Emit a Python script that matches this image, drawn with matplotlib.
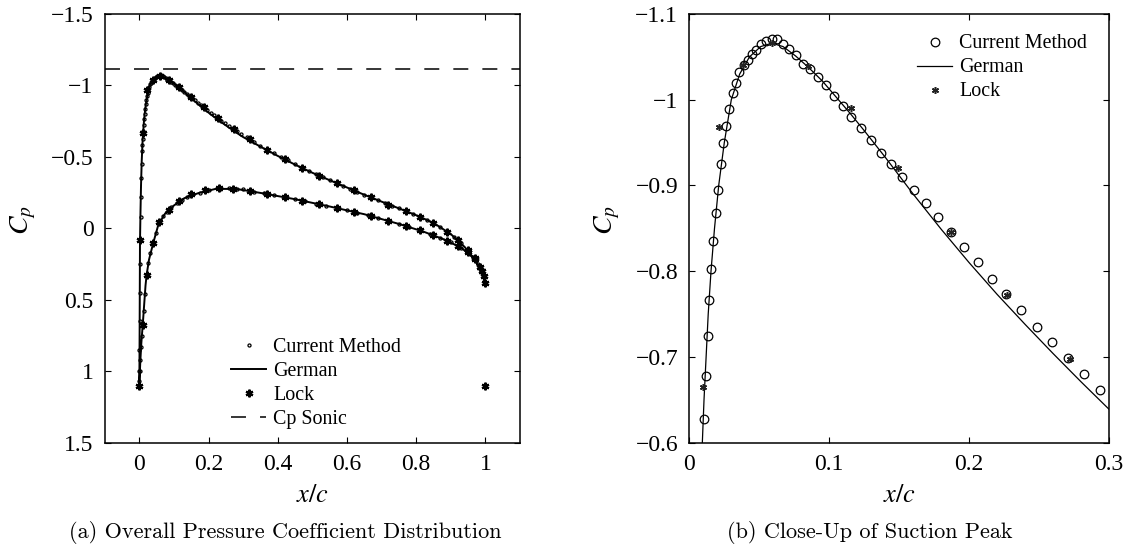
import matplotlib
matplotlib.use("Agg")
import matplotlib.pyplot as plt

# ---------------- data ----------------
cp_sonic = -1.115

# German (line): lower surface TE -> LE
german_lo_x = [1.0, 0.97, 0.93, 0.88, 0.82, 0.75, 0.65, 0.55, 0.45, 0.35, 0.28, 0.22,
               0.17, 0.13, 0.10, 0.075, 0.055, 0.04, 0.028, 0.021, 0.018, 0.011, 0.006,
               0.003, 0.001, 0.0]
german_lo_cp = [0.38, 0.217, 0.135, 0.077, 0.022, -0.031, -0.099, -0.153, -0.204, -0.248,
                -0.276, -0.276, -0.246, -0.211, -0.16, -0.105, -0.025, 0.105, 0.22, 0.329,
                0.40, 0.64, 0.80, 0.93, 1.04, 1.10]
# German (line): upper surface LE -> TE
german_up_x = [0.0, 0.0005, 0.001, 0.0015, 0.002, 0.0035, 0.005, 0.007, 0.0093, 0.0105,
               0.012, 0.0135, 0.0155, 0.018, 0.021, 0.025, 0.030, 0.036, 0.043, 0.051,
               0.059, 0.067, 0.076, 0.085, 0.095, 0.105, 0.115, 0.125, 0.14, 0.16, 0.18,
               0.2, 0.22, 0.24, 0.26, 0.28, 0.3, 0.35, 0.4, 0.45, 0.5, 0.55, 0.6, 0.65,
               0.7, 0.75, 0.8, 0.85, 0.9, 0.94, 0.97, 0.99, 1.0]
german_up_cp = [1.10, 0.95, 0.7, 0.4, 0.1, -0.12, -0.3, -0.47, -0.60, -0.65,
                -0.70, -0.75, -0.80, -0.85, -0.90, -0.95, -1.00, -1.03, -1.05, -1.062,
                -1.066, -1.062, -1.051, -1.038, -1.022, -1.003, -0.984, -0.964, -0.933,
                -0.890, -0.849, -0.810, -0.773, -0.738, -0.704, -0.671, -0.639, -0.572,
                -0.507, -0.446, -0.389, -0.337, -0.286, -0.235, -0.187, -0.140, -0.092,
                -0.038, 0.040, 0.13, 0.22, 0.30, 0.38]

# Current Method: upper surface
cur_up_x = [0.0, 0.0002, 0.0005, 0.0009, 0.0014, 0.002, 0.0027, 0.0035, 0.0044, 0.0054,
            0.0065, 0.0078, 0.0088,
            0.0104, 0.0117, 0.013, 0.0143, 0.0156, 0.0171, 0.0189, 0.0205, 0.0223, 0.0241,
            0.0264, 0.0285, 0.0309, 0.0332, 0.0358, 0.0389, 0.0417, 0.0449, 0.048, 0.0514,
            0.055, 0.0589, 0.0628, 0.0672, 0.0716, 0.0762, 0.0809, 0.0861, 0.0918, 0.0978,
            0.1037, 0.1097, 0.1159, 0.1227, 0.1297, 0.1369, 0.1444, 0.1522, 0.1607, 0.1691,
            0.1779, 0.187, 0.1963, 0.2061, 0.216, 0.2266, 0.2372, 0.2482, 0.259, 0.2707,
            0.2821, 0.2938,
            0.31, 0.33, 0.35, 0.37, 0.39, 0.41, 0.43, 0.45, 0.47, 0.49, 0.51, 0.53, 0.55,
            0.57, 0.59, 0.61, 0.63, 0.65, 0.67, 0.69, 0.71, 0.73, 0.75, 0.77, 0.79, 0.81,
            0.83, 0.85, 0.87, 0.89, 0.91, 0.93, 0.95, 0.965, 0.98, 0.99, 1.0]
cur_up_cp = [1.10, 1.0, 0.85, 0.65, 0.45, 0.25, 0.08, -0.08, -0.22, -0.35,
             -0.45, -0.54, -0.58,
             -0.628, -0.678, -0.725, -0.767, -0.803, -0.835, -0.868, -0.895, -0.925, -0.949,
             -0.969, -0.989, -1.008, -1.020, -1.032, -1.040, -1.046, -1.053, -1.058, -1.0645,
             -1.069, -1.0714, -1.0714, -1.0645, -1.0588, -1.0518, -1.0416, -1.0355, -1.0265,
             -1.0171, -1.0049, -0.993, -0.9796, -0.9665, -0.953, -0.938, -0.9245, -0.9098,
             -0.895, -0.8796, -0.8633, -0.8461, -0.8282, -0.8102, -0.791, -0.7735, -0.7543,
             -0.7355, -0.7171, -0.6988, -0.680, -0.6612,
             -0.636, -0.604, -0.578, -0.552, -0.527, -0.501, -0.476, -0.450, -0.425, -0.401,
             -0.378, -0.356, -0.337, -0.317, -0.296, -0.275, -0.254, -0.235, -0.216, -0.196,
             -0.177, -0.158, -0.140, -0.122, -0.101, -0.079, -0.059, -0.038, -0.010, 0.022,
             0.060, 0.105, 0.153, 0.198, 0.250, 0.300, 0.38]
# Current Method: lower surface
cur_lo_x = [0.0005, 0.0015, 0.003, 0.005, 0.0075, 0.0102, 0.013, 0.0165, 0.021, 0.026,
            0.032, 0.04, 0.048, 0.058, 0.069, 0.08, 0.093, 0.108, 0.122, 0.137, 0.155,
            0.175, 0.2, 0.233, 0.26, 0.281, 0.30, 0.33, 0.36, 0.39, 0.42, 0.45, 0.48,
            0.51, 0.54, 0.57, 0.60, 0.63, 0.66, 0.69, 0.72, 0.75, 0.78, 0.81, 0.84, 0.87,
            0.90, 0.93, 0.95, 0.97, 0.985, 1.0]
cur_lo_cp = [1.07, 1.0, 0.92, 0.83, 0.75, 0.673, 0.58, 0.46, 0.33, 0.24,
             0.17, 0.105, 0.03, -0.046, -0.085, -0.116, -0.148, -0.175, -0.2, -0.221,
             -0.237, -0.249, -0.265, -0.278, -0.28, -0.278, -0.272, -0.256, -0.244, -0.232,
             -0.218, -0.204, -0.189, -0.173, -0.158, -0.143, -0.127, -0.110, -0.091, -0.071,
             -0.051, -0.031, -0.011, 0.012, 0.038, 0.066, 0.098, 0.135, 0.167, 0.217,
             0.275, 0.38]

# Lock (asterisks)
lock_x = [0.002, 0.0096, 0.0213, 0.0384, 0.0589, 0.0848, 0.1154, 0.1491, 0.187, 0.2269,
          0.2723, 0.32, 0.37, 0.42, 0.47, 0.52, 0.57, 0.62, 0.67, 0.72, 0.77, 0.81, 0.85,
          0.89, 0.92, 0.95, 0.97, 0.985, 0.995,
          0.0, 0.0102, 0.021, 0.04, 0.058, 0.085, 0.115, 0.15, 0.19, 0.23, 0.27, 0.32,
          0.37, 0.42, 0.47, 0.52, 0.57, 0.62, 0.67, 0.72, 0.77, 0.81, 0.85, 0.89, 0.92,
          0.95, 0.97, 0.99, 1.0, 1.0]
lock_cp = [0.083, -0.6645, -0.9686, -1.0408, -1.0665, -1.0388, -0.9898, -0.9204, -0.8461,
           -0.7722, -0.6971, -0.622, -0.551, -0.486, -0.425, -0.366, -0.317, -0.266, -0.216,
           -0.162, -0.12, -0.079, -0.038, 0.022, 0.083, 0.153, 0.21, 0.27, 0.33,
           1.10, 0.673, 0.329, 0.105, -0.046, -0.125, -0.19, -0.238, -0.268, -0.279, -0.275,
           -0.258, -0.241, -0.218, -0.194, -0.167, -0.143, -0.114, -0.083, -0.05, -0.018,
           0.012, 0.045, 0.09, 0.12, 0.165, 0.215, 0.3, 0.38, 1.10]

left_xticks = [0, 0.2, 0.4, 0.6, 0.8, 1.0]
left_xticklabels = ["0", "0.2", "0.4", "0.6", "0.8", "1"]
left_yticks = [-1.5, -1.0, -0.5, 0.0, 0.5, 1.0, 1.5]
left_yticklabels = ["\u22121.5", "\u22121", "\u22120.5", "0", "0.5", "1", "1.5"]
right_xticks = [0, 0.1, 0.2, 0.3]
right_xticklabels = ["0", "0.1", "0.2", "0.3"]
right_yticks = [-1.1, -1.0, -0.9, -0.8, -0.7, -0.6]
right_yticklabels = ["\u22121.1", "\u22121", "\u22120.9", "\u22120.8", "\u22120.7", "\u22120.6"]

caption_a = "(a) Overall Pressure Coefficient Distribution"
caption_b = "(b) Close-Up of Suction Peak"

# ---------------- drawing ----------------
plt.rcParams["font.family"] = ["Liberation Serif", "DejaVu Serif"]
plt.rcParams["mathtext.fontset"] = "stix"

fig = plt.figure(figsize=(11.28, 5.49), dpi=100)
axL = fig.add_axes([0.0928, 0.1936, 0.3682, 0.7809])
axR = fig.add_axes([0.6111, 0.1936, 0.3721, 0.7809])

asterisk = (6, 2, 0)

# Left panel
german_x = german_lo_x + german_up_x
german_cp = german_lo_cp + german_up_cp
axL.plot(cur_up_x + cur_lo_x, cur_up_cp + cur_lo_cp, linestyle="none", marker="o",
         markersize=2.2, mfc="none", mec="black", mew=0.9, label="Current Method", zorder=3)
axL.plot(german_x, german_cp, color="black", lw=1.4, label="German", zorder=2)
axL.plot(lock_x, lock_cp, linestyle="none", marker=asterisk, markersize=5.5,
         mec="black", mew=1.6, color="black", label="Lock", zorder=4)
axL.axhline(cp_sonic, color="black", lw=1.1, dashes=(9.8, 9.2), label="Cp Sonic")
axL.set_xlim(-0.1, 1.1)
axL.set_ylim(1.5, -1.5)
axL.set_xticks(left_xticks)
axL.set_xticklabels(left_xticklabels)
axL.set_yticks(left_yticks)
axL.set_yticklabels(left_yticklabels)

# Right panel
axR.plot(german_x, german_cp, color="black", lw=0.9, label="German", zorder=2)
axR.plot(cur_up_x + cur_lo_x, cur_up_cp + cur_lo_cp, linestyle="none", marker="o",
         markersize=6.2, mfc="none", mec="black", mew=0.9, label="Current Method", zorder=3)
axR.plot(lock_x, lock_cp, linestyle="none", marker=asterisk, markersize=5,
         mec="#222222", mew=1.1, label="Lock", zorder=4)
axR.set_xlim(0, 0.3)
axR.set_ylim(-0.6, -1.1)
axR.set_xticks(right_xticks)
axR.set_xticklabels(right_xticklabels)
axR.set_yticks(right_yticks)
axR.set_yticklabels(right_yticklabels)

for ax in (axL, axR):
    ax.tick_params(direction="in", top=True, right=True, length=4, width=0.8,
                   labelsize=17, pad=8)
    for s in ax.spines.values():
        s.set_linewidth(1.1)
    ax.set_ylabel(r"$C_p$", fontsize=20, va="center")
    ax.yaxis.set_label_coords(-0.195, 0.52)
    ax.set_xlabel(r"$x/c$", fontsize=19, va="center")
    ax.xaxis.set_label_coords(0.5, -0.125)

leg_kw = dict(loc="upper left", frameon=False, fontsize=14.4, handlelength=1.75,
              handletextpad=0.35, labelspacing=0.25, borderpad=0, borderaxespad=0)
hL, lL = axL.get_legend_handles_labels()
order = [lL.index(n) for n in ["Current Method", "German", "Lock", "Cp Sonic"]]
fig.legend([hL[i] for i in order], [lL[i] for i in order],
           bbox_to_anchor=(231 / 1128, 1 - 338 / 549), **leg_kw)
hR, lR = axR.get_legend_handles_labels()
orderR = [lR.index(n) for n in ["Current Method", "German", "Lock"]]
fig.legend([hR[i] for i in orderR], [lR[i] for i in orderR],
           bbox_to_anchor=(917 / 1128, 1 - 34.5 / 549), **leg_kw)

fig.text(285 / 1128, 1 - 533 / 549, caption_a, family="cmr10", fontsize=16,
         ha="center", va="center")
fig.text(870 / 1128, 1 - 533 / 549, caption_b, family="cmr10", fontsize=16,
         ha="center", va="center")

fig.savefig("out.png", dpi=100)
